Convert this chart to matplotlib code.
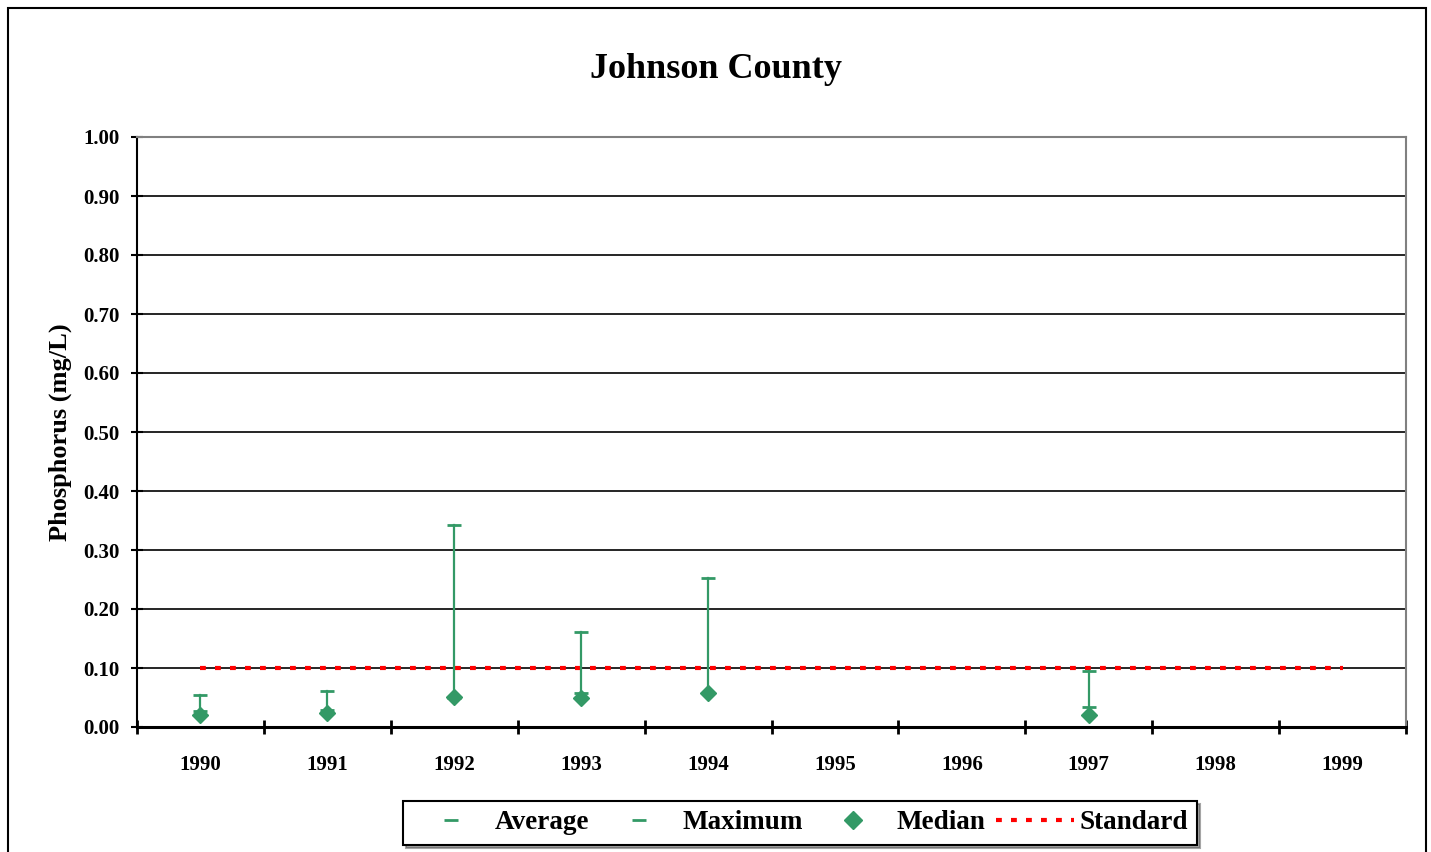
import numpy as np
import matplotlib.pyplot as plt
from matplotlib.patches import Rectangle
from matplotlib.lines import Line2D

plt.rcParams['font.family'] = ['Liberation Serif', 'DejaVu Serif']
plt.rcParams['font.weight'] = 'bold'

years = ['1990', '1991', '1992', '1993', '1994', '1995', '1996', '1997', '1998', '1999']
average = [0.027, 0.029, 0.05, 0.058, 0.058, np.nan, np.nan, 0.034, np.nan, np.nan]
maximum = [0.054, 0.061, 0.342, 0.161, 0.253, np.nan, np.nan, 0.095, np.nan, np.nan]
median = [0.020, 0.024, 0.051, 0.049, 0.058, np.nan, np.nan, 0.020, np.nan, np.nan]
standard = [0.10] * 10

green = '#339966'
x = np.arange(len(years))

fig = plt.figure(figsize=(14.31, 8.52), dpi=100)
ax = fig.add_axes([137 / 1431, 1 - 727 / 852, (1406 - 137) / 1431, (727 - 137) / 852])

# high-low lines
for xi, lo, hi in zip(x, median, maximum):
    if not np.isnan(hi):
        ax.plot([xi, xi], [lo, hi], color=green, lw=1.6, zorder=3)

ax.plot(x, average, ls='none', marker='_', ms=10, mew=2, color=green, zorder=4)
ax.plot(x, maximum, ls='none', marker='_', ms=10, mew=2, color=green, zorder=4)
ax.plot(x, median, ls='none', marker='D', ms=8, color=green, zorder=5)
ax.plot(x, standard, ls=(0, (1.4, 2.2)), lw=3, color='red', zorder=2)

ax.set_xlim(-0.5, 9.5)
ax.set_ylim(0, 1.0)
ax.set_yticks(np.arange(0, 1.01, 0.1))
ax.set_yticklabels([f'{v:.2f}' for v in np.arange(0, 1.01, 0.1)])
ax.yaxis.grid(True, color='black', lw=1.2)
ax.set_axisbelow(True)
ax.set_xticks(x)
ax.set_xticklabels(years)
ax.set_xticks(np.arange(-0.5, 10, 1), minor=True)
ax.tick_params(axis='x', which='major', length=0, pad=20, labelsize=15)
ax.tick_params(axis='x', which='minor', length=10, width=2, direction='inout')
ax.tick_params(axis='y', length=9, width=1.5, direction='inout', labelsize=15, pad=8)
for lab in ax.get_xticklabels() + ax.get_yticklabels():
    lab.set_fontweight('bold')
ax.spines['bottom'].set_linewidth(2.2)
ax.spines['left'].set_linewidth(1.5)
ax.spines['top'].set_color('#808080')
ax.spines['right'].set_color('#808080')
ax.spines['top'].set_linewidth(1.5)
ax.spines['right'].set_linewidth(1.5)

ax.set_ylabel('Phosphorus (mg/L)', fontsize=19, fontweight='bold', labelpad=8)
fig.text(716 / 1431, 1 - 70 / 852, 'Johnson County', ha='center', va='center',
         fontsize=26, fontweight='bold')

handles = [
    Line2D([], [], ls='none', marker='_', ms=10, mew=2, color=green),
    Line2D([], [], ls='none', marker='_', ms=10, mew=2, color=green),
    Line2D([], [], ls='none', marker='D', ms=9, color=green),
    Line2D([], [], ls=(0, (1.4, 2.2)), lw=3, color='red'),
]
leg = fig.legend(handles, ['Average', 'Maximum', 'Median', 'Standard'],
                 loc='upper center', bbox_to_anchor=(800 / 1431, 1 - 801 / 852),
                 ncol=4, frameon=True, fancybox=False, shadow=True,
                 edgecolor='black', prop={'size': 19.5, 'weight': 'bold'},
                 handlelength=2.85, handletextpad=0.2, columnspacing=0.4,
                 borderpad=0.35, borderaxespad=0)
leg.get_frame().set_linewidth(1.5)

fig.patches.append(Rectangle((8 / 1431, -0.1), (1426 - 8) / 1431, 1.1 - 8 / 852,
                             transform=fig.transFigure, fill=False,
                             edgecolor='black', lw=1.5))

fig.savefig('out.png', dpi=100)
